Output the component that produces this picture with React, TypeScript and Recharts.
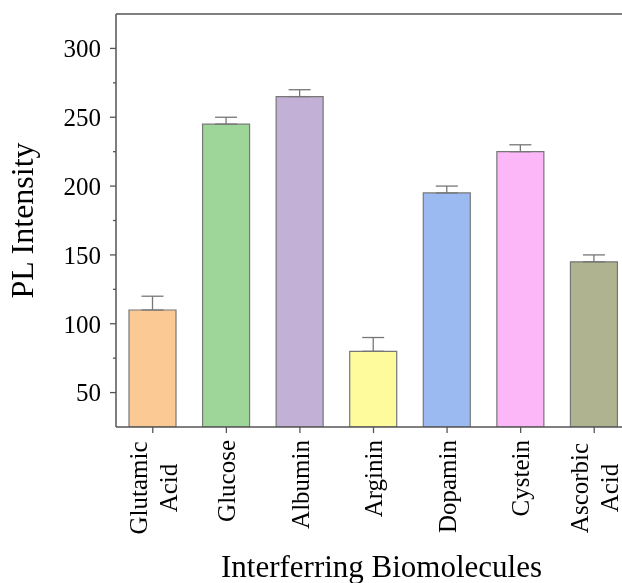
import React from "react";
import {
  BarChart,
  Bar,
  Cell,
  ErrorBar,
  XAxis,
  YAxis,
  ReferenceLine,
  Label,
} from "recharts";

const categories = [
  "Glutamic\nAcid",
  "Glucose",
  "Albumin",
  "Arginin",
  "Dopamin",
  "Cystein",
  "Ascorbic\nAcid",
];
const intensity = [110, 245, 265, 80, 195, 225, 145];
const errors = [10, 5, 5, 10, 5, 5, 5];
const barColors = [
  "#FBC994",
  "#9ED69A",
  "#C2B0D6",
  "#FEFB9C",
  "#9BBAF1",
  "#FCB7F8",
  "#AFB38F",
];
const yTicks = [50, 75, 100, 125, 150, 175, 200, 225, 250, 275, 300];
const yMajor = [50, 100, 150, 200, 250, 300];

const FONT = "'Liberation Serif', 'Times New Roman', serif";
const AXIS = "#555555";
const EDGE = "#777777";

// only the upper arm of each error bar is shown
const chartData = categories.map((name, i) => ({
  name,
  value: intensity[i],
  err: [0, errors[i]],
}));

const YTick = (props: any) => {
  const { x, y, payload } = props;
  const major = yMajor.includes(payload.value);
  return (
    <g>
      <line
        x1={x + (major ? 9 : 12)}
        x2={x + 15}
        y1={y}
        y2={y}
        stroke={AXIS}
        strokeWidth={1.3}
      />
      {major && (
        <text
          x={x}
          y={y}
          dy="0.35em"
          textAnchor="end"
          style={{ fontFamily: FONT, fontSize: 25 }}
          fill="#000"
        >
          {payload.value}
        </text>
      )}
    </g>
  );
};

const XTick = (props: any) => {
  const { x, y, payload } = props;
  const lines: string[] = String(payload.value).split("\n");
  const fontSize = 25;
  const longest = Math.max(...lines.map((l) => l.length));
  const span = longest * 0.48 * fontSize;
  return (
    <g transform={`translate(${x}, ${y}) rotate(-90)`}>
      {lines.map((line, i) => (
        <text
          key={line}
          x={lines.length > 1 ? -span / 2 : 0}
          y={(i - (lines.length - 1) / 2) * 30}
          dy="0.35em"
          textAnchor={lines.length > 1 ? "middle" : "end"}
          style={{ fontFamily: FONT, fontSize }}
          fill="#000"
        >
          {line}
        </text>
      ))}
    </g>
  );
};

export default function App() {
  // fixed box so the plot can run to the right edge without page scrollbars
  return (
    <div
      style={{
        position: "fixed",
        left: 8,
        top: 8,
        width: 614,
        height: 575,
        overflow: "hidden",
      }}
    >
      <BarChart
        width={614}
        height={575}
        data={chartData}
        margin={{ top: 6, right: -9, bottom: 0, left: 0 }}
        barSize={47}
        style={{ fontFamily: FONT }}
      >
        <XAxis
          dataKey="name"
          interval={0}
          height={156}
          tick={<XTick />}
          tickSize={6}
          tickMargin={7}
          tickLine={{ stroke: AXIS, strokeWidth: 1.3 }}
          axisLine={{ stroke: AXIS, strokeWidth: 1.5 }}
        >
          <Label
            content={(p: any) => {
              const vb = p.viewBox || {};
              return (
                <text
                  x={vb.x + vb.width / 2 + 8}
                  y={569}
                  textAnchor="middle"
                  style={{ fontFamily: FONT, fontSize: 31 }}
                  fill="#000"
                >
                  Interferring Biomolecules
                </text>
              );
            }}
          />
        </XAxis>
        <YAxis
          domain={[25, 325]}
          ticks={yTicks}
          width={108}
          tick={<YTick />}
          tickLine={false}
          tickSize={6}
          tickMargin={9}
          allowDataOverflow
          axisLine={{ stroke: AXIS, strokeWidth: 1.5 }}
        >
          <Label
            content={(p: any) => {
              const vb = p.viewBox || {};
              const cy = vb.y + vb.height / 2;
              return (
                <text
                  transform={`translate(25, ${cy}) rotate(-90)`}
                  textAnchor="middle"
                  style={{ fontFamily: FONT, fontSize: 32 }}
                  fill="#000"
                >
                  PL Intensity
                </text>
              );
            }}
          />
        </YAxis>
        <ReferenceLine y={325} stroke={AXIS} strokeWidth={1.5} />
        <Bar
          dataKey="value"
          stroke={EDGE}
          strokeWidth={1.2}
          isAnimationActive={false}
        >
          {chartData.map((d, i) => (
            <Cell key={d.name} fill={barColors[i]} />
          ))}
          <ErrorBar
            dataKey="err"
            width={11}
            stroke={EDGE}
            strokeWidth={1.3}
            isAnimationActive={false}
          />
        </Bar>
      </BarChart>
    </div>
  );
}
